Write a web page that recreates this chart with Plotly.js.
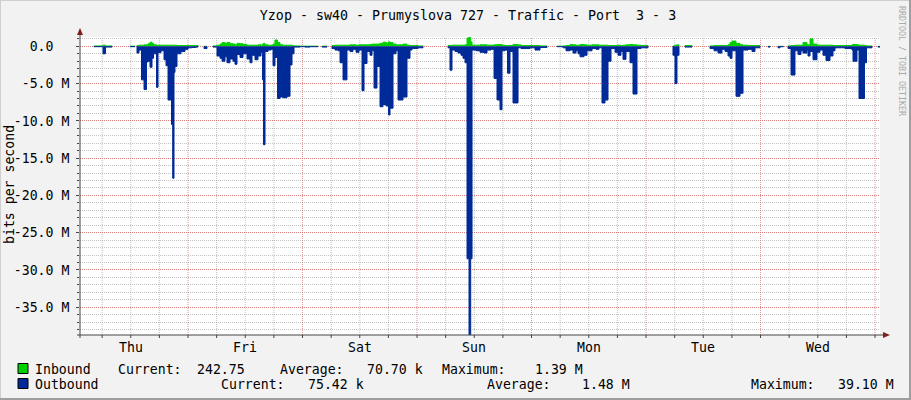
<!DOCTYPE html>
<html>
<head>
<meta charset="utf-8">
<script src="https://cdn.plot.ly/plotly-3.0.1.min.js"></script>
<style>
html,body{margin:0;padding:0;background:#F2F2F2;}
#chart{width:911px;height:400px;}
</style>
</head>
<body>
<div id="chart"></div>
<script>
// Time in hours since Thursday 00:00 (one week view); values in Mbit/s; null = no data
const hours = [
  4.30, 4.30, 6.18, 6.71, 8.07, 8.28,
  11.84, 11.84, 12.89, 13.10,
  13.31, 13.31, 13.73, 14.25, 14.78, 15.30, 15.62, 16.03, 16.45, 16.77, 17.40, 17.71, 18.34, 18.97, 19.39, 19.81, 20.54, 20.79, 21.06, 21.27, 21.69, 22.53, 23.37, 24.00, 24.84, 25.68, 26.10, 26.30,
  27.35, 27.35, 27.98, 28.19,
  29.24, 29.24, 30.08, 30.71, 31.13, 31.75, 32.17, 32.80, 33.43, 33.85, 34.27, 34.90, 35.53, 36.37, 36.99, 37.41, 38.04, 38.67, 39.30, 39.61, 39.82, 40.14, 40.77, 41.40, 41.82, 42.23, 42.76, 43.28, 43.91, 44.75, 45.38, 45.80, 46.22, 47.47, 48.52, 49.57, 51.25, 51.46, 52.09, 52.09, 53.13, 53.34,
  54.18, 54.18, 54.81, 55.44, 55.86, 56.49, 57.32, 57.95, 58.58, 59.21, 59.84, 60.47, 60.89, 61.52, 62.15, 62.57, 62.99, 63.61, 64.24, 64.87, 65.50, 66.02, 66.34, 66.97, 67.60, 68.02, 69.06, 69.90, 70.53, 70.95, 72.21, 73.26, 73.47,
  78.50, 78.50, 78.91, 79.33, 79.96, 80.59, 81.22, 81.64, 82.06, 82.48, 82.90, 83.25, 83.53, 84.36, 85.20, 86.04, 86.67, 87.51, 88.14, 88.77, 89.39, 89.81, 90.44, 90.97, 91.49, 92.12, 93.17, 93.80, 95.68, 96.73, 97.78, 99.25, 99.46,
  101.34, 101.34, 102.60, 103.23, 104.07, 104.70, 105.32, 105.74, 106.16, 107.00, 107.63, 108.68, 109.52, 110.14, 110.77, 111.40, 112.03, 112.66, 113.50, 114.13, 114.75, 115.17, 115.80, 116.64, 117.27, 118.11, 118.95, 120.42, 120.63,
  125.65, 125.65, 126.07, 126.49, 126.91, 127.12, 128.17, 128.17, 129.63, 129.84,
  133.41, 133.41, 134.25, 135.09, 135.92, 136.55, 137.18, 137.60, 138.02, 138.86, 139.70, 140.33, 141.38, 142.21, 142.84, 143.89, 144.10,
  145.57, 145.57, 145.99, 146.20, 147.66, 147.66, 148.08, 148.82, 149.03,
  149.76, 149.76, 150.39, 151.22, 151.85, 152.48, 152.90, 153.74, 153.95, 154.37, 155.00, 155.83, 156.46, 157.09, 157.72, 158.56, 159.19, 159.61, 161.71, 163.17, 163.38, 164.22, 164.64, 165.79, 166.21, 167.37, 167.58, 168.62, 168.62, 169.04
];
const inboundM = [
  0, 0.05, 0.15, 0.05, 0, null,
  0, 0.02, 0, null,
  0, 0.1, 0.15, 0.15, 0.2, 0.2, 0.35, 0.55, 0.4, 0.2, 0.15, 0.15, 0.15, 0.15, 0.15, 0.15, 0.15, 0.15, 0.15, 0.15, 0.1, 0.1, 0.1, 0.1, 0.1, 0.1, 0, null,
  0, 0, 0, null,
  0, 0.05, 0.15, 0.3, 0.5, 0.4, 0.5, 0.35, 0.3, 0.2, 0.4, 0.35, 0.25, 0.15, 0.15, 0.15, 0.15, 0.2, 0.15, 0.3, 0.4, 0.2, 0.15, 0.15, 0.3, 0.85, 0.5, 0.2, 0.15, 0.15, 0.15, 0.1, 0.05, 0.02, 0.02, 0.02, 0, null, 0, 0.02, 0, null,
  0, 0.1, 0.15, 0.15, 0.15, 0.15, 0.15, 0.2, 0.2, 0.15, 0.2, 0.2, 0.2, 0.2, 0.25, 0.3, 0.3, 0.3, 0.4, 0.55, 0.45, 0.6, 0.5, 0.3, 0.2, 0.2, 0.3, 0.15, 0.1, 0.1, 0.05, 0, null,
  0, 0.1, 0.1, 0.15, 0.15, 0.15, 0.15, 0.15, 0.2, 1.1, 1.39, 0.6, 0.15, 0.15, 0.2, 0.2, 0.15, 0.15, 0.2, 0.25, 0.25, 0.15, 0.1, 0.1, 0.1, 0.25, 0.2, 0.1, 0.1, 0.1, 0.05, 0, null,
  0, 0.02, 0.05, 0.1, 0.25, 0.2, 0.15, 0.15, 0.25, 0.2, 0.15, 0.2, 0.2, 0.15, 0.15, 0.15, 0.1, 0.1, 0.1, 0.15, 0.1, 0.15, 0.2, 0.25, 0.2, 0.15, 0.1, 0, null,
  0, 0.05, 0.15, 0.2, 0, null, 0, 0.1, 0, null,
  0, 0.05, 0.1, 0.1, 0.1, 0.1, 0.2, 0.5, 0.7, 0.4, 0.2, 0.15, 0.1, 0.1, 0.1, 0, null,
  0, 0, 0, null, 0, 0, 0, 0, null,
  0, 0.05, 0.1, 0.15, 0.15, 0.15, 0.5, 0.2, 0.2, 1.0, 0.3, 0.15, 0.15, 0.15, 0.15, 0.15, 0.1, 0.1, 0.1, 0.2, 0.25, 0.2, 0.15, 0.1, 0.05, 0, null, 0, 0, 0
];
const outboundM = [
  0, 0.05, 1.0, 0.1, 0, null,
  0, 0.05, 0, null,
  0, 0.9, 0.5, 4.5, 5.8, 2.1, 2.0, 2.8, 1.6, 1.0, 5.5, 0.85, 0.6, 1.8, 2.6, 7.2, 10.5, 17.7, 3.5, 2.7, 1.0, 0.7, 0.4, 0.2, 0.15, 0.1, 0, null,
  0, 0.3, 0, null,
  0, 0.1, 1.3, 1.6, 2.0, 1.4, 2.2, 1.7, 2.0, 2.4, 1.1, 1.5, 1.0, 1.7, 2.2, 1.2, 1.8, 1.3, 0.8, 4.5, 13.2, 0.7, 0.5, 0.4, 2.6, 1.5, 7.0, 6.8, 6.9, 6.7, 2.5, 1.0, 0.1, 0.05, 0.1, 0.05, 0, null, 0, 0.1, 0, null,
  0, 0.3, 0.5, 0.6, 2.2, 4.5, 0.5, 0.7, 0.4, 0.8, 0.5, 5.95, 2.3, 0.7, 1.2, 0.6, 5.6, 2.7, 8.1, 7.8, 8.0, 9.2, 8.3, 1.0, 0.6, 7.2, 6.8, 1.6, 0.5, 0.3, 0.2, 0, null,
  0, 0.2, 3.2, 0.5, 0.7, 0.9, 1.2, 1.6, 2.2, 28.5, 39.1, 28.5, 0.5, 0.6, 0.8, 0.9, 0.5, 0.4, 4.3, 7.2, 8.5, 0.6, 0.5, 3.6, 0.7, 7.6, 0.2, 0.3, 0.2, 0.5, 0.15, 0, null,
  0, 0.05, 0.2, 0.6, 0.5, 0.9, 0.6, 1.0, 1.4, 1.2, 0.6, 0.3, 0.4, 0.2, 7.6, 7.2, 2.0, 0.3, 0.8, 1.2, 0.7, 1.75, 0.7, 2.2, 6.4, 0.3, 0.2, 0, null,
  0, 1.2, 5.0, 1.2, 0, null, 0, 0.1, 0, null,
  0, 0.3, 0.6, 0.9, 0.4, 0.7, 1.3, 1.6, 0.6, 6.7, 6.3, 0.5, 0.4, 0.7, 0.2, 0, null,
  0, 0.1, 0, null, 0, 0.2, 0.05, 0, null,
  0, 0.3, 3.85, 0.6, 1.1, 0.6, 0.9, 0.5, 1.3, 0.7, 1.8, 0.8, 0.5, 1.2, 1.9, 1.3, 0.6, 0.2, 0.3, 0.5, 2.0, 0.5, 7.0, 2.2, 0.2, 0, null, 0, 0.1, 0.1
];
const dayLabels = ['Thu', 'Fri', 'Sat', 'Sun', 'Mon', 'Tue', 'Wed'];
const dayNoonHours = [12, 36, 60, 84, 108, 132, 156];
const dayStartHours = [24, 48, 72, 96, 120, 144, 168];
const sixHourTicks = [6, 12, 18, 30, 36, 42, 54, 60, 66, 78, 84, 90, 102, 108, 114, 126, 132, 138, 150, 156, 162];
const yTickVals = [0, -5, -10, -15, -20, -25, -30, -35];
const yTickText = ['0.0\u00a0\u00a0', '-5.0 M', '-10.0 M', '-15.0 M', '-20.0 M', '-25.0 M', '-30.0 M', '-35.0 M'];
const seriesNames = ['Inbound', 'Outbound'];
const inboundStats = ['242.75', '70.70 k', '1.39 M'];
const outboundStats = ['75.42 k', '1.48 M', '39.10 M'];
const statLabels = ['Current:', 'Average:', 'Maximum:'];

const GREEN = '#00CF00', BLUE = '#002A97';
const FONT = 'DejaVu Sans Mono, monospace';
const FS = 13.2;
const GRID = 'rgba(143,143,143,0.55)', MGRID = 'rgba(222,79,79,0.6)';

// pixel -> paper helpers for decoration
const X = px => (px - 80) / 800;
const Y = py => (335 - py) / 298;

const traces = [
  {x: hours, y: inboundM, type: 'scatter', mode: 'lines', name: seriesNames[0],
   line: {shape: 'hv', width: 1, color: GREEN}, fill: 'tozeroy', fillcolor: GREEN,
   connectgaps: false, hoverinfo: 'skip'},
  {x: hours, y: outboundM.map(v => v === null ? null : -v), type: 'scatter', mode: 'lines', name: seriesNames[1],
   line: {shape: 'hv', width: 1, color: BLUE}, fill: 'tozeroy', fillcolor: BLUE,
   connectgaps: false, hoverinfo: 'skip'}
];

const xr = [1.36, 169.04];
const shapes = [];
// vertical time grid (6-hour grey, midnight red), placed on the data x axis
sixHourTicks.forEach(h => shapes.push({type: 'line', xref: 'x', yref: 'paper', x0: h, x1: h, y0: 0, y1: 1,
  line: {color: GRID, width: 1, dash: '1px,1px'}, layer: 'below'}));
dayStartHours.forEach(h => shapes.push({type: 'line', xref: 'x', yref: 'paper', x0: h, x1: h, y0: 0, y1: 1,
  line: {color: MGRID, width: 1, dash: '1px,1px'}, layer: 'below'}));
// time tick marks below the axis
sixHourTicks.concat(dayStartHours).forEach(h => shapes.push({type: 'line', xref: 'x', yref: 'paper', x0: h, x1: h, y0: Y(335), y1: Y(338),
  line: {color: '#444', width: 1}, layer: 'above'}));
shapes.push(
  // axes with arrows
  {type: 'line', xref: 'paper', yref: 'paper', x0: X(80), x1: X(80), y0: Y(338), y1: Y(33), line: {color: '#444', width: 1}, layer: 'above'},
  {type: 'line', xref: 'paper', yref: 'paper', x0: X(77), x1: X(884), y0: Y(335), y1: Y(335), line: {color: '#444', width: 1}, layer: 'above'},
  {type: 'path', xref: 'paper', yref: 'paper', path: `M ${X(77)},${Y(35)} L ${X(80)},${Y(28)} L ${X(83)},${Y(35)} Z`, fillcolor: '#801F1F', line: {width: 0}, layer: 'above'},
  {type: 'path', xref: 'paper', yref: 'paper', path: `M ${X(883)},${Y(332)} L ${X(890)},${Y(335)} L ${X(883)},${Y(338)} Z`, fillcolor: '#801F1F', line: {width: 0}, layer: 'above'},
  // legend swatches
  {type: 'rect', xref: 'paper', yref: 'paper', x0: X(18), x1: X(28), y0: Y(363.5), y1: Y(373.5), fillcolor: GREEN, line: {color: '#000', width: 1}},
  {type: 'rect', xref: 'paper', yref: 'paper', x0: X(18), x1: X(28), y0: Y(378.5), y1: Y(388.5), fillcolor: BLUE, line: {color: '#000', width: 1}},
  // frame
  {type: 'line', xref: 'paper', yref: 'paper', x0: X(0), x1: X(911), y0: Y(0.5), y1: Y(0.5), line: {color: '#CFCFCF', width: 1}},
  {type: 'line', xref: 'paper', yref: 'paper', x0: X(0.5), x1: X(0.5), y0: Y(0), y1: Y(400), line: {color: '#CFCFCF', width: 1}},
  {type: 'line', xref: 'paper', yref: 'paper', x0: X(0), x1: X(911), y0: Y(399), y1: Y(399), line: {color: '#9E9E9E', width: 2}},
  {type: 'line', xref: 'paper', yref: 'paper', x0: X(910), x1: X(910), y0: Y(0), y1: Y(400), line: {color: '#9E9E9E', width: 2}}
);

function ann(text, px, py, extra) {
  return Object.assign({text: text, xref: 'paper', yref: 'paper', x: X(px), y: Y(py),
    xanchor: 'left', yanchor: 'middle', showarrow: false, borderpad: 0,
    font: {family: FONT, size: FS, color: '#000'}}, extra || {});
}
const annotations = [
  ann(seriesNames[0], 34, 369), ann(statLabels[0], 117, 369), ann(inboundStats[0], 196, 369),
  ann(statLabels[1], 279, 369), ann(inboundStats[1], 366, 369),
  ann(statLabels[2], 441, 369), ann(inboundStats[2], 534, 369),
  ann(seriesNames[1], 34, 384), ann(statLabels[0], 220, 384), ann(outboundStats[0], 307, 384),
  ann(statLabels[1], 486, 384), ann(outboundStats[1], 581, 384),
  ann(statLabels[2], 750, 384), ann(outboundStats[2], 837, 384),
  ann('bits per second', 10, 185, {xanchor: 'center', textangle: -90}),
  ann('RRDTOOL / TOBI OETIKER', 902, 61, {xanchor: 'center', textangle: 90, font: {family: FONT, size: 8.3, color: '#AAAAAA'}})
];
// day labels placed at noon of each day on the data x axis
dayLabels.forEach((d, i) => {
  annotations.push({text: d, xref: 'x', yref: 'paper', x: dayNoonHours[i], y: Y(347), xanchor: 'center', yanchor: 'middle',
    showarrow: false, borderpad: 0, font: {family: FONT, size: FS, color: '#000'}});
});

const layout = {
  width: 911, height: 400,
  margin: {l: 80, r: 31, t: 37, b: 65, pad: 0},
  paper_bgcolor: '#F2F2F2', plot_bgcolor: '#FFFFFF',
  showlegend: false,
  font: {family: FONT, size: FS, color: '#000'},
  title: {text: 'Yzop - sw40 - Prumyslova 727 - Traffic - Port\u00a0 3 - 3', x: 468 / 911, xref: 'container', xanchor: 'center',
          y: 1 - 15 / 400, yref: 'container', yanchor: 'middle', font: {family: FONT, size: 13.3, color: '#000'}},
  xaxis: {range: xr, showgrid: false, showticklabels: false, ticks: '', zeroline: false, showline: false},
  yaxis: {range: [-38.72, 1.25], tickmode: 'array', tickvals: yTickVals, ticktext: yTickText,
          showgrid: true, gridcolor: MGRID, griddash: '1px,1px', gridwidth: 1, ticks: 'outside', ticklen: 3, tickcolor: '#444',
          zeroline: false, showline: false, ticklabelstandoff: 4, tickfont: {family: FONT, size: FS, color: '#000'},
          minor: {tickmode: 'linear', tick0: 0, dtick: 1, showgrid: true, gridcolor: GRID, griddash: '1px,1px', gridwidth: 1, ticks: 'outside', ticklen: 2, tickcolor: '#444'}},
  shapes: shapes,
  annotations: annotations
};

Plotly.newPlot('chart', traces, layout, {staticPlot: true, displayModeBar: false});
</script>
</body>
</html>
